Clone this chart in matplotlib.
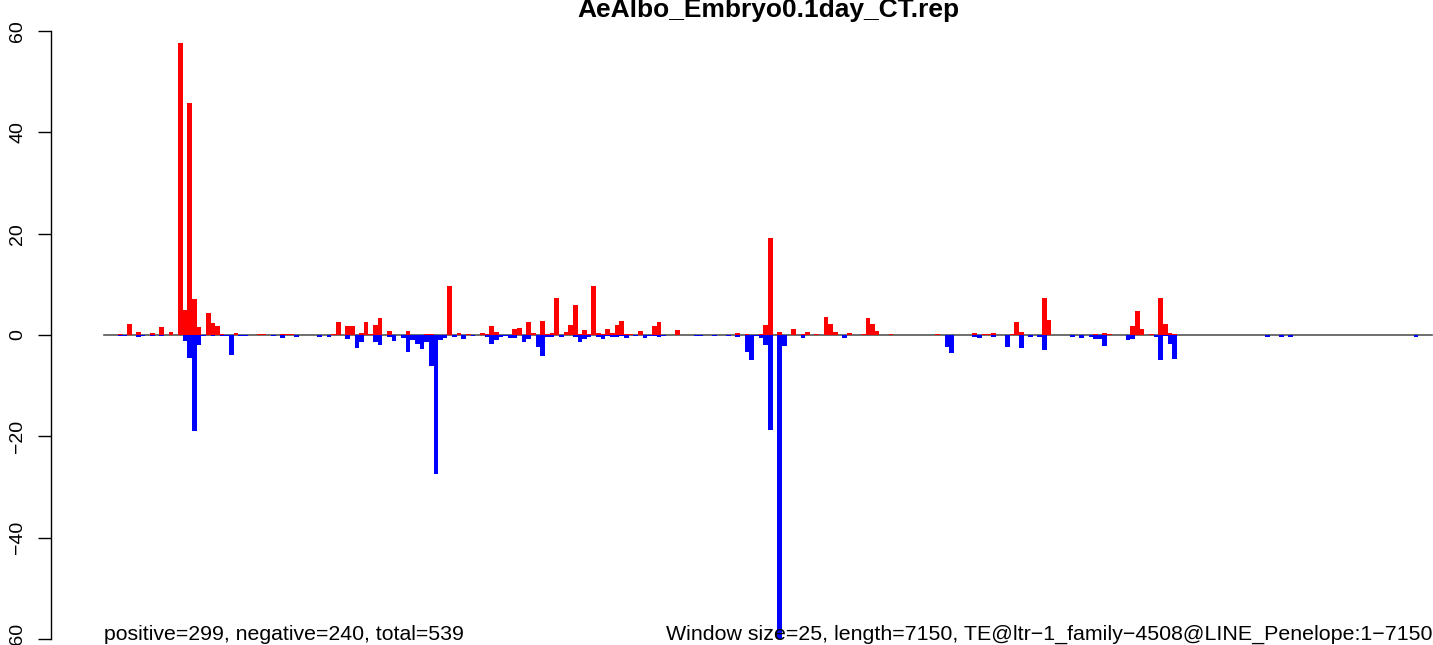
import numpy as np
import matplotlib

matplotlib.use("Agg")
import matplotlib.pyplot as plt

# window counts (window size 25 over 7150 bp -> 286 windows)
n_windows = 286

# non-zero positive-strand counts: window index -> value
pos_values = {
    3: 0.2, 5: 2.1, 7: 0.66, 10: 0.46, 12: 1.64, 14: 0.66,
    16: 57.6, 17: 4.9, 18: 45.8, 19: 7.2, 20: 1.5, 22: 4.3, 23: 2.3, 24: 1.7,
    25: 0.2, 28: 0.33, 33: 0.1, 34: 0.1, 38: 0.26, 39: 0.1, 40: 0.1,
    49: 0.26, 50: 2.57, 52: 1.78, 53: 1.78, 55: 0.46, 56: 2.57, 57: 0.26,
    58: 2.04, 59: 3.36, 61: 0.79, 65: 0.79, 69: 0.2, 70: 0.2, 74: 9.67,
    76: 0.46, 78: 0.26, 81: 0.4, 82: 0.2, 83: 1.78, 84: 0.6, 87: 0.07,
    88: 1.18, 89: 1.38, 91: 2.57, 92: 0.4, 94: 2.76, 95: 0.2, 96: 0.4,
    97: 7.3, 99: 0.6, 100: 1.97, 101: 5.9, 102: 0.2, 103: 0.99, 104: 0.2,
    105: 9.67, 106: 0.4, 107: 0.1, 108: 1.18, 109: 0.4, 110: 1.97,
    111: 2.76, 112: 0.2, 113: 0.2, 115: 0.79, 118: 1.78, 119: 2.57,
    121: 0.07, 122: 0.07, 123: 0.99, 136: 0.4, 138: 0.2, 141: 0.2,
    142: 1.9, 143: 19.1, 145: 0.6, 146: 0.07, 148: 1.18, 150: 0.2,
    151: 0.6, 153: 0.2, 155: 3.55, 156: 2.17, 157: 0.6, 159: 0.07,
    160: 0.4, 163: 0.2, 164: 3.36, 165: 2.17, 166: 0.79, 169: 0.2,
    170: 0.05, 171: 0.05, 172: 0.05, 174: 0.07, 179: 0.2, 187: 0.4,
    188: 0.07, 189: 0.2, 190: 0.2, 191: 0.4, 192: 0.07, 195: 0.2,
    196: 2.57, 197: 0.6, 198: 0.07, 200: 0.07, 202: 7.3, 203: 2.96,
    211: 0.07, 213: 0.26, 215: 0.46, 216: 0.26, 221: 1.78, 222: 4.74,
    223: 1.18, 225: 0.26, 227: 7.3, 228: 2.17, 229: 0.4, 230: 0.26,
    237: 0.05, 247: 0.05, 251: 0.05, 259: 0.05, 270: 0.05,
}

# non-zero negative-strand counts: window index -> value
neg_values = {
    3: -0.25, 4: -0.25, 7: -0.46, 8: -0.26, 10: -0.26, 12: -0.26,
    17: -1.25, 18: -4.6, 19: -19.0, 20: -2.04, 21: -0.26, 23: -0.26,
    25: -0.2, 26: -0.2, 27: -4.0, 29: -0.15, 30: -0.15, 36: -0.15,
    38: -0.53, 41: -0.33, 46: -0.33, 48: -0.33, 52: -0.72, 54: -2.5,
    55: -1.3, 58: -1.3, 59: -1.9, 61: -0.33, 62: -1.18, 64: -0.53,
    65: -3.3, 66: -1.0, 67: -1.7, 68: -2.85, 69: -1.3, 70: -6.05,
    71: -27.4, 72: -0.9, 73: -0.5, 75: -0.33, 77: -0.72, 79: -0.13,
    82: -0.33, 83: -1.7, 84: -1.05, 85: -0.46, 86: -0.2, 87: -0.5,
    88: -0.5, 90: -1.3, 91: -0.8, 93: -2.3, 94: -4.08, 95: -0.33,
    96: -0.33, 98: -0.33, 101: -0.33, 102: -1.3, 103: -0.72, 104: -0.33,
    106: -0.33, 107: -0.72, 108: -0.2, 109: -0.33, 110: -0.33,
    111: -0.13, 112: -0.53, 114: -0.13, 116: -0.53, 117: -0.1, 118: -0.1,
    119: -0.33, 120: -0.1, 127: -0.1, 128: -0.1, 131: -0.1, 134: -0.1,
    136: -0.4, 138: -3.3, 139: -4.9, 140: -0.1, 141: -0.6, 142: -1.9,
    143: -18.75, 145: -60.0, 146: -2.17, 150: -0.53, 159: -0.53,
    161: -0.07, 162: -0.07, 169: -0.07, 177: -0.07, 181: -2.37,
    182: -3.55, 187: -0.33, 188: -0.53, 190: -0.07, 191: -0.33,
    194: -2.3, 197: -2.5, 199: -0.33, 201: -0.33, 202: -2.9, 208: -0.33,
    209: -0.07, 210: -0.53, 212: -0.33, 213: -0.72, 214: -0.72,
    215: -2.1, 218: -0.07, 220: -0.92, 221: -0.72, 226: -0.33,
    227: -4.93, 228: -0.2, 229: -1.7, 230: -4.74, 236: -0.07, 237: -0.07,
    250: -0.33, 253: -0.33, 255: -0.33, 260: -0.07, 267: -0.07,
    278: -0.07, 279: -0.07, 282: -0.33, 284: -0.07, 285: -0.07,
}

y_ticks = [-60, -40, -20, 0, 20, 40, 60]
title = "AeAlbo_Embryo0.1day_CT.rep"
left_note = "positive=299, negative=240, total=539"
right_note = "Window size=25, length=7150, TE@ltr\u22121_family\u22124508@LINE_Penelope:1\u22127150"

pos = np.zeros(n_windows)
neg = np.zeros(n_windows)
for k, v in pos_values.items():
    pos[k] = v
for k, v in neg_values.items():
    neg[k] = v
x = np.arange(n_windows)

plt.rcParams["font.family"] = ["Liberation Sans", "DejaVu Sans"]

W, H = 1433, 645
fig = plt.figure(figsize=(W / 100, H / 100), dpi=100)

# plot region in pixels (R-style 4% padding on both axes)
left_px, right_px = 50.5, 1485.5
top_px, bottom_px = 6.7, 663.3
ax = fig.add_axes([left_px / W, 1 - bottom_px / H,
                   (right_px - left_px) / W, (bottom_px - top_px) / H])
ax.set_xlim(-0.04 * n_windows, 1.04 * n_windows)
ax.set_ylim(-64.8, 64.8)

ax.plot([0, n_windows], [0, 0], color="#555555", lw=1.2, zorder=1)
ax.bar(x, pos, width=1.0, align="edge", color="#FF0000", linewidth=0, zorder=2)
ax.bar(x, neg, width=1.0, align="edge", color="#0000FF", linewidth=0, zorder=2)

for s in ["top", "right", "bottom"]:
    ax.spines[s].set_visible(False)
ax.spines["left"].set_bounds(-60, 60)
ax.spines["left"].set_linewidth(1.0)
ax.set_xticks([])
ax.set_yticks(y_ticks)
ax.set_yticklabels([str(t).replace("-", "\u2212") for t in y_ticks],
                   rotation=90, va="center", fontsize=14)
ax.tick_params(axis="y", length=9.5, width=1.0, pad=8)
ax.patch.set_alpha(0)

fig.text(768 / W, 1 - 16.7 / H, title, ha="center", va="baseline",
         fontsize=19, fontweight="bold")
fig.text(104 / W, 1 - 640 / H, left_note, ha="left", va="baseline", fontsize=15.3)
fig.text(1433 / W, 1 - 640 / H, right_note, ha="right", va="baseline", fontsize=15.4)

fig.savefig("out.png", dpi=100)
